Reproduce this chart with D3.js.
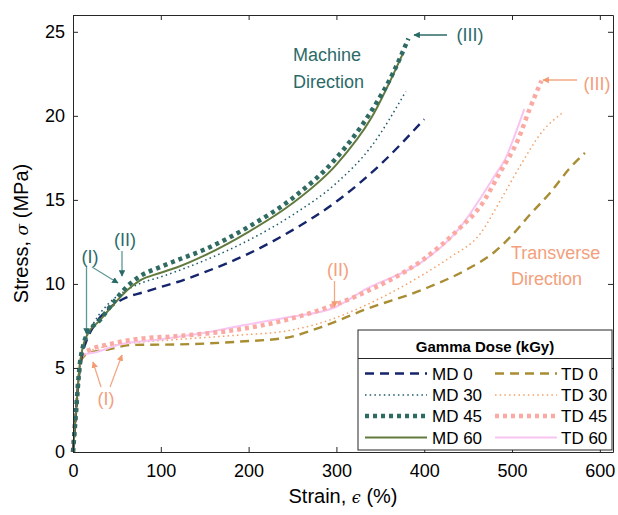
<!DOCTYPE html>
<html>
<head>
<meta charset="utf-8">
<script src="https://cdn.jsdelivr.net/npm/d3@7"></script>
<style>
  body { margin: 0; background: #fff; }
  text { font-family: "Liberation Sans", Arial, sans-serif; }
</style>
</head>
<body>
<div id="chart"></div>
<script>
// series names (legend order)
const mdNames = ["MD 0", "MD 30", "MD 45", "MD 60"];
const tdNames = ["TD 0", "TD 30", "TD 45", "TD 60"];

// strain (%) / stress (MPa)
const md0 = [[0,0],[2,1.4],[4,2.8],[6,4.1],[8,5.1],[11,5.9],[16,6.7],[25,7.6],[40,8.5],[61,9.2],[80,9.5],[99,9.8],[118,10.1],[150,10.7],[200,11.8],[250,13.2],[300,14.9],[350,17.1],[400,19.8]];
const md30 = [[0,0],[2,1.4],[4,2.8],[6,4.1],[8,5.2],[11,6.0],[16,6.9],[25,7.8],[40,8.8],[60,9.6],[80,10.1],[99,10.4],[118,10.75],[150,11.4],[200,12.6],[250,14.1],[300,16.0],[340,18.2],[379,21.45]];
const md45 = [[0,0],[2,1.4],[4,2.8],[6,4.2],[8,5.3],[11,6.2],[15.5,6.95],[30.8,7.86],[45.6,8.87],[61,9.82],[76,10.45],[99,11.0],[118,11.4],[150,12.05],[200,13.4],[250,15.1],[300,17.5],[340,20.3],[365,22.6],[382,24.6]];
const md60 = [[0,0],[2,1.4],[4,2.8],[6,4.2],[8,5.3],[11,6.2],[15.5,6.9],[30,7.8],[45,8.7],[61,9.6],[76,10.2],[99,10.65],[118,10.98],[150,11.7],[200,13.1],[250,14.8],[300,17.1],[340,19.9],[376,23.75]];
const td0 = [[0,0],[2,1.4],[4,2.8],[6,4.1],[8,5.1],[11,5.6],[19,5.9],[40,6.1],[67,6.37],[120,6.4],[190,6.57],[243,6.8],[281,7.4],[334,8.5],[400,9.7],[450,10.9],[480,11.9],[500,12.9],[520,14.1],[543,15.4],[566,16.9],[583,17.8]];
const td30 = [[0,0],[2,1.4],[4,2.8],[6,4.1],[8,5.1],[11,5.7],[19,6.0],[40,6.3],[70,6.5],[120,6.7],[190,6.96],[243,7.2],[281,7.66],[334,8.75],[400,10.6],[430,11.6],[464,13.0],[486,14.9],[509,17.0],[535,19.1],[558,20.2]];
const td45 = [[0,0],[2,1.4],[4,2.8],[6,4.2],[8,5.3],[11,5.8],[20,6.1],[40,6.4],[70,6.7],[120,6.9],[190,7.3],[243,7.86],[281,8.45],[334,9.54],[400,11.5],[440,13.3],[465,14.7],[486,16.6],[507,18.6],[520,20.4],[533.6,22.1]];
const td60 = [[0,0],[2,1.4],[4,2.8],[6,4.2],[8,5.3],[11,5.8],[23,5.9],[53,6.4],[99,6.7],[150,7.1],[190,7.5],[243,8.0],[298,8.6],[334,9.7],[400,11.4],[440,13.3],[464,15.1],[481,16.5],[492,17.4],[505,19.1],[514,20.4]];

const xTicks = [0, 100, 200, 300, 400, 500, 600];
const yTicks = [0, 5, 10, 15, 20, 25];

const W = 618, H = 515;
const m = { left: 73, right: 5, top: 15, bottom: 63 };
const iw = W - m.left - m.right, ih = H - m.top - m.bottom;

const svg = d3.select("#chart").append("svg")
  .attr("width", W).attr("height", H);

const x = d3.scaleLinear().domain([0, 615]).range([m.left, m.left + iw]);
const y = d3.scaleLinear().domain([0, 26]).range([m.top + ih, m.top]);

// styles per series
const styles = {
  "MD 0":  { data: md0,  color: "#15256b", w: 2.4, dash: "9,6" },
  "MD 30": { data: md30, color: "#1d5a6b", w: 1.5, dash: "1.5,3.2" },
  "MD 45": { data: md45, color: "#2f6b63", w: 4.5, dash: "4,4" },
  "MD 60": { data: md60, color: "#627a3e", w: 2,   dash: null },
  "TD 0":  { data: td0,  color: "#a88d33", w: 2.4, dash: "9,6" },
  "TD 30": { data: td30, color: "#f2a065", w: 1.5, dash: "1.5,3.2" },
  "TD 45": { data: td45, color: "#faaaa2", w: 4.5, dash: "4,4" },
  "TD 60": { data: td60, color: "#f8c4f2", w: 2,   dash: null }
};

const line = d3.line().x(d => x(d[0])).y(d => y(d[1])).curve(d3.curveMonotoneX);

const plot = svg.append("g");
["TD 0", "TD 30", "TD 60", "TD 45", "MD 0", "MD 30", "MD 60", "MD 45"].forEach(k => {
  const s = styles[k];
  plot.append("path")
    .attr("d", line(s.data))
    .attr("fill", "none")
    .attr("stroke", s.color)
    .attr("stroke-width", s.w)
    .attr("stroke-dasharray", s.dash);
});

// axes, ticks inward on all four sides
const axColor = "#262626";
const gx = svg.append("g").attr("transform", `translate(0,${m.top + ih})`)
  .call(d3.axisBottom(x).tickValues(xTicks).tickSizeInner(-5).tickSizeOuter(0).tickPadding(12));
const gxt = svg.append("g").attr("transform", `translate(0,${m.top})`)
  .call(d3.axisTop(x).tickValues(xTicks).tickSizeInner(-5).tickSizeOuter(0).tickFormat(""));
const gy = svg.append("g").attr("transform", `translate(${m.left},0)`)
  .call(d3.axisLeft(y).tickValues(yTicks).tickSizeInner(-5).tickSizeOuter(0).tickPadding(8));
const gyr = svg.append("g").attr("transform", `translate(${m.left + iw},0)`)
  .call(d3.axisRight(y).tickValues(yTicks).tickSizeInner(-5).tickSizeOuter(0).tickFormat(""));
[gx, gxt, gy, gyr].forEach(g => {
  g.selectAll(".domain").attr("stroke", axColor).attr("stroke-width", 1);
  g.selectAll(".tick line").attr("stroke", axColor);
  g.selectAll(".tick text").attr("fill", "#000").style("font-size", "18px")
    .style("font-family", "'Liberation Sans', Arial, sans-serif");
});

// axis titles
svg.append("text")
  .attr("x", m.left + iw / 2).attr("y", 503)
  .attr("text-anchor", "middle").style("font-size", "20px")
  .html('Strain, <tspan font-family="DejaVu Serif" font-style="italic" font-size="16">ϵ</tspan> (%)');
svg.append("text")
  .attr("transform", `translate(28,${m.top + ih / 2}) rotate(-90)`)
  .attr("text-anchor", "middle").style("font-size", "20px")
  .html('Stress, <tspan font-family="DejaVu Serif" font-style="italic" font-size="17">σ</tspan> (MPa)');

// annotations
const mdText = "#2c6a69", mdArrow = "#5f9797";
const tdText = "#f3a07c", tdArrow = "#f3a884";
const defs = svg.append("defs");
function marker(id, col) {
  defs.append("marker").attr("id", id).attr("viewBox", "0 0 10 10")
    .attr("refX", 9).attr("refY", 5).attr("markerWidth", 5).attr("markerHeight", 5)
    .attr("orient", "auto")
    .append("path").attr("d", "M0,0 L10,5 L0,10 Z").attr("fill", col);
}
marker("hmd", "#2a6a66");
marker("htd", "#f39a70");
function arrow(x1, y1, x2, y2, col, mk) {
  svg.append("line").attr("x1", x1).attr("y1", y1).attr("x2", x2).attr("y2", y2)
    .attr("stroke", col).attr("stroke-width", 1.3).attr("marker-end", `url(#${mk})`);
}
function label(tx, ty, t, col, anchor) {
  svg.append("text").attr("x", tx).attr("y", ty).attr("text-anchor", anchor || "middle")
    .attr("fill", col).style("font-size", "18px").text(t);
}
// MD side
label(90, 263, "(I)", mdText);
arrow(86.5, 267, 86.5, 334, mdArrow, "hmd");
arrow(92, 267, 118, 283, mdArrow, "hmd");
label(125, 246, "(II)", mdText);
arrow(122, 251, 122, 276, mdArrow, "hmd");
label(470, 41, "(III)", mdText);
arrow(447, 35, 414, 35, mdText, "hmd");
label(293, 61, "Machine", mdText, "start");
label(293, 88, "Direction", mdText, "start");
// TD side
label(106, 405, "(I)", tdText);
arrow(101, 387, 93, 362, tdArrow, "htd");
arrow(110, 387, 122, 355, tdArrow, "htd");
label(338, 276, "(II)", tdText);
arrow(334.5, 281, 334.5, 307, tdArrow, "htd");
label(597, 90, "(III)", tdText);
arrow(577, 80, 543, 80, tdArrow, "htd");
label(511, 259, "Transverse", tdText, "start");
label(511, 285, "Direction", tdText, "start");

// legend
const lg = svg.append("g");
const lx0 = 358, ly0 = 330, lx1 = 612, ly1 = 450;
lg.append("rect").attr("x", lx0).attr("y", ly0).attr("width", lx1 - lx0).attr("height", ly1 - ly0)
  .attr("fill", "#fff").attr("stroke", "#262626").attr("stroke-width", 1);
lg.append("line").attr("x1", lx0).attr("x2", lx1).attr("y1", 358.5).attr("y2", 358.5)
  .attr("stroke", "#262626").attr("stroke-width", 1);
lg.append("text").attr("x", (lx0 + lx1) / 2).attr("y", 352).attr("text-anchor", "middle")
  .style("font-size", "15px").style("font-weight", "bold").text("Gamma Dose (kGy)");
const rowY = [373.5, 395, 416, 437.5];
[[mdNames, 365, 427, 432], [tdNames, 495, 557, 561]].forEach(([names, a, b, t]) => {
  names.forEach((n, i) => {
    const s = styles[n];
    lg.append("line").attr("x1", a).attr("x2", b).attr("y1", rowY[i]).attr("y2", rowY[i])
      .attr("stroke", s.color).attr("stroke-width", s.w).attr("stroke-dasharray", s.dash);
    lg.append("text").attr("x", t).attr("y", rowY[i] + 6).style("font-size", "17px").text(n);
  });
});
</script>
</body>
</html>
